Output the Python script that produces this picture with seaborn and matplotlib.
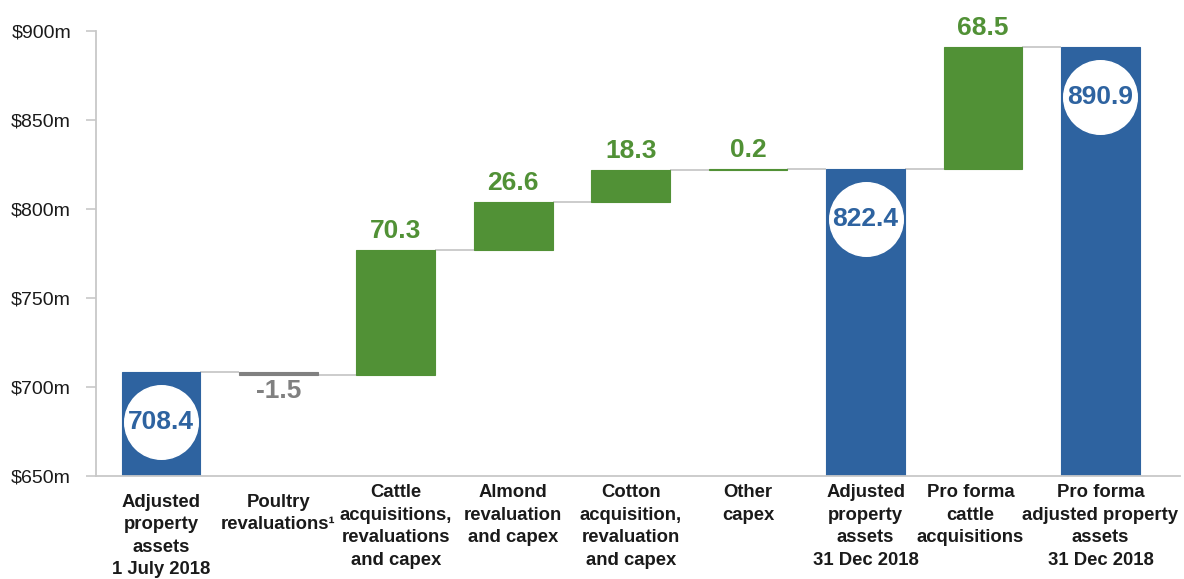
import matplotlib
matplotlib.use("Agg")
import matplotlib.pyplot as plt
import matplotlib.transforms as mtransforms
import numpy as np
import pandas as pd
import seaborn as sns

# Property asset bridge, $m
categories = [
    "Adjusted\nproperty\nassets\n1 July 2018",
    "Poultry\nrevaluations\u00b9",
    "Cattle\nacquisitions,\nrevaluations\nand capex",
    "Almond\nrevaluation\nand capex",
    "Cotton\nacquisition,\nrevaluation\nand capex",
    "Other\ncapex",
    "Adjusted\nproperty\nassets\n31 Dec 2018",
    "Pro forma\ncattle\nacquisitions",
    "Pro forma\nadjusted property\nassets\n31 Dec 2018",
]
values = [708.4, -1.5, 70.3, 26.6, 18.3, 0.2, 822.4, 68.5, 890.9]
kinds = ["total", "change", "change", "change", "change", "change",
         "total", "change", "total"]
y_ticks = [650, 700, 750, 800, 850, 900]
y_tick_labels = ["$650m", "$700m", "$750m", "$800m", "$850m", "$900m"]

BLUE = "#2E63A0"
GREEN = "#519136"
GREY = "#808080"
LINE = "#C8C8C8"
BASE = y_ticks[0]

# Floating bar extents
bottoms, heights, levels = [], [], []
running = 0.0
for v, k in zip(values, kinds):
    if k == "total":
        bottoms.append(BASE)
        heights.append(v - BASE)
        running = v
    else:
        bottoms.append(running if v >= 0 else running + v)
        heights.append(abs(v))
        running += v
    levels.append(running)

df = pd.DataFrame({"category": categories, "height": heights, "bottom": bottoms})

sns.set_theme(style="white")
plt.rcParams["font.family"] = ["Liberation Sans", "DejaVu Sans"]

fig = plt.figure(figsize=(11.84, 5.79), dpi=100)
ax = fig.add_axes([0.0811, 0.178, 0.9155, 0.7685])

bar_w = 0.67
sns.barplot(data=df, x="category", y="height", order=categories,
            bottom=df["bottom"].to_numpy(), width=bar_w, color=BLUE,
            saturation=1, errorbar=None, ax=ax, zorder=2)

def bar_color(v, k):
    if k == "total":
        return BLUE
    return GREEN if v >= 0 else GREY

for patch, v, k in zip(ax.patches, values, kinds):
    c = bar_color(v, k)
    patch.set_facecolor(c)
    patch.set_edgecolor(c)
    patch.set_linewidth(0.8)

# Connectors between consecutive bars
for i in range(len(values) - 1):
    ax.plot([i + bar_w / 2, i + 1 - bar_w / 2], [levels[i], levels[i]],
            color=LINE, lw=1.3, zorder=1, solid_capstyle="butt")

# Value labels
circle_tr = mtransforms.offset_copy(ax.transData, fig=fig, x=0, y=-36, units="points")
for i, (v, k) in enumerate(zip(values, kinds)):
    txt = f"{v:.1f}"
    if k == "total":
        ax.plot(i, v, marker="o", ms=53, color="white", mec="white",
                transform=circle_tr, zorder=3, clip_on=False)
        ax.annotate(txt, xy=(i, v), xytext=(0, -36), textcoords="offset points",
                    ha="center", va="center", fontsize=19, fontweight="bold",
                    color=BLUE, zorder=4)
    elif v >= 0:
        ax.annotate(txt, xy=(i, bottoms[i] + heights[i]), xytext=(0, 5),
                    textcoords="offset points", ha="center", va="bottom",
                    fontsize=19, fontweight="bold", color=GREEN)
    else:
        ax.annotate(txt, xy=(i, bottoms[i]), xytext=(0, -3),
                    textcoords="offset points", ha="center", va="top",
                    fontsize=19, fontweight="bold", color=GREY)

ax.set_xlim(-0.553, len(values) - 1 + 0.677)
ax.set_ylim(BASE, 900)
ax.set_yticks(y_ticks)
ax.set_yticklabels(y_tick_labels)
ax.set_xlabel("")
ax.set_ylabel("")

ax.tick_params(axis="y", length=7, width=1.2, color=LINE, pad=11,
               labelsize=14, labelcolor="#1a1a1a", left=True)
ax.tick_params(axis="x", length=0, pad=6, labelsize=13.3, labelcolor="#1a1a1a")
xt = ax.xaxis.get_major_ticks()
for t in xt[:2]:
    t.set_pad(13)
for lab in ax.get_xticklabels():
    lab.set_fontweight("bold")
    lab.set_linespacing(1.42)
# nudge the crowded "Pro forma cattle" label left
lab7 = xt[7].label1
lab7.set_transform(lab7.get_transform()
                   + mtransforms.ScaledTranslation(-9 / 72, 0, fig.dpi_scale_trans))

for side in ["top", "right"]:
    ax.spines[side].set_visible(False)
for side in ["left", "bottom"]:
    ax.spines[side].set_color(LINE)
    ax.spines[side].set_linewidth(1.3)
ax.grid(False)

fig.savefig("out.png", dpi=100, facecolor="white")
